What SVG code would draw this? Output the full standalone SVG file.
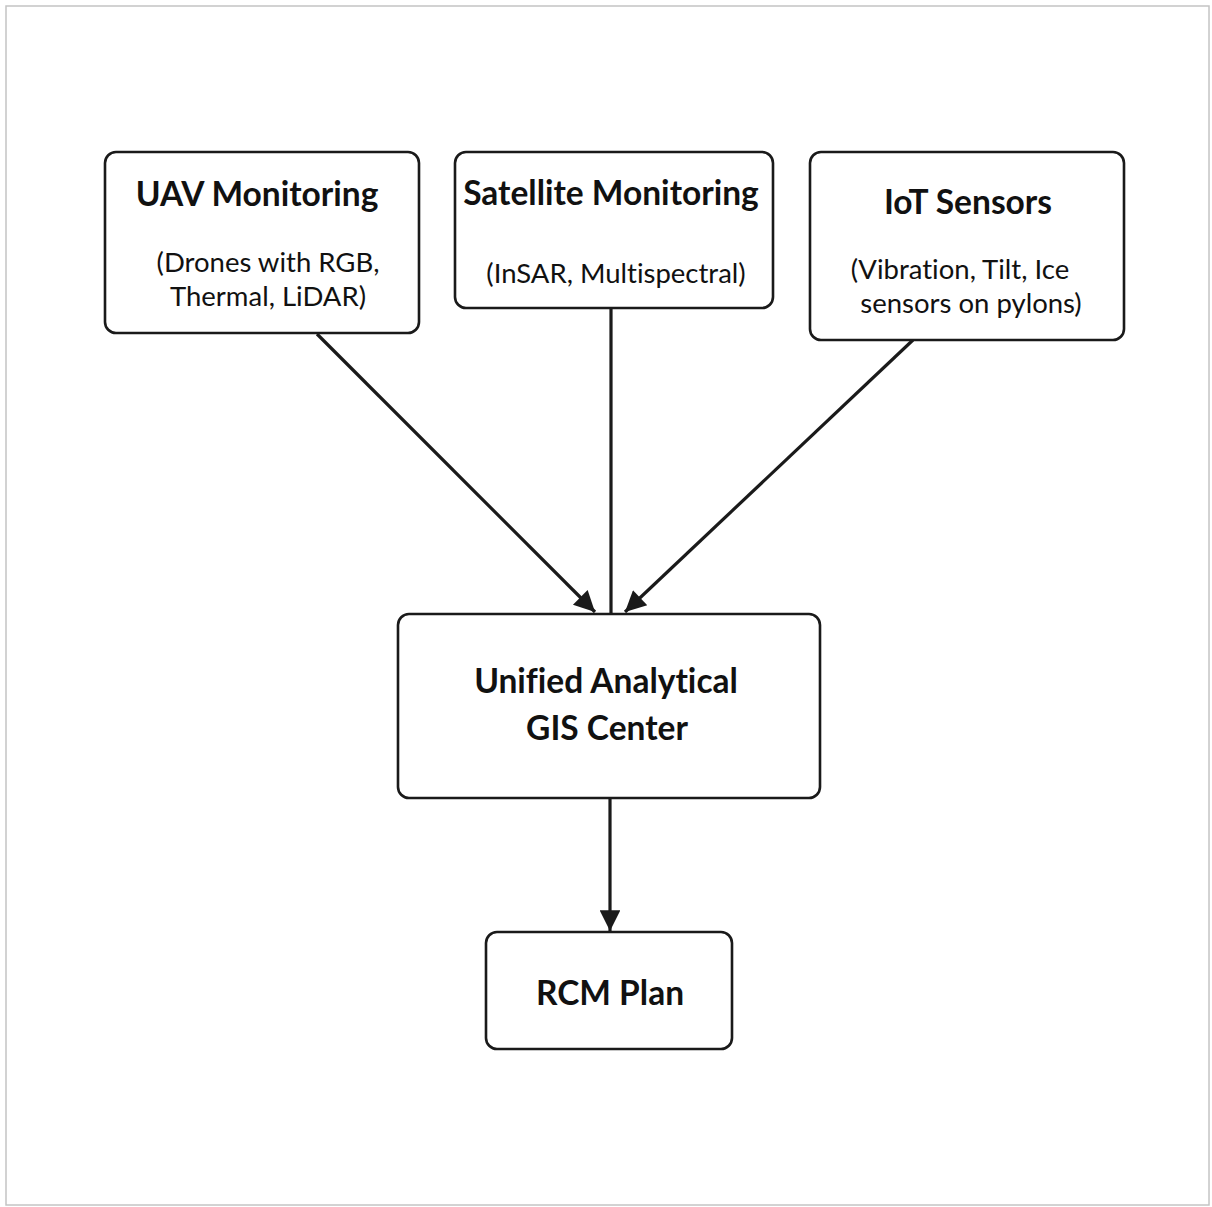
<svg xmlns="http://www.w3.org/2000/svg" width="1212" height="1207" viewBox="0 0 1212 1207">
<defs>
<style>
.node rect{fill:#fff;stroke:#1a1a1a;stroke-width:2.6}
.t{font-family:Lato,"Open Sans","Liberation Sans",sans-serif;font-weight:bold;font-size:33.5px;fill:#111;text-anchor:middle;font-variant-ligatures:none}
.s{font-family:Lato,"Open Sans","Liberation Sans",sans-serif;font-size:27.5px;fill:#111;text-anchor:middle;font-variant-ligatures:none}
.c line{stroke:#1a1a1a;stroke-width:3.2}
</style>
<marker id="ah" viewBox="0 0 10 10" refX="10" refY="5" markerWidth="8" markerHeight="6.5" markerUnits="strokeWidth" orient="auto">
<path d="M0,0 L10,5 L0,10 Z" fill="#1a1a1a"/>
</marker>
</defs>
<rect x="0" y="0" width="1212" height="1207" fill="#fff"/>
<rect x="6" y="6" width="1203" height="1199" fill="none" stroke="#c4c4c4" stroke-width="1.5"/>
<g class="c" id="connectors">
<line x1="317" y1="334" x2="595" y2="612" marker-end="url(#ah)"/>
<line x1="611" y1="308" x2="611" y2="614"/>
<line x1="913" y1="340" x2="625" y2="612" marker-end="url(#ah)"/>
<line x1="610" y1="798" x2="610" y2="931" marker-end="url(#ah)"/>
</g>
<g class="node" id="uav">
<rect x="105" y="152" width="314" height="181" rx="11"/>
<text class="t" x="257" y="206">UAV Monitoring</text>
<text class="s" x="268" y="272">(Drones with RGB,</text>
<text class="s" x="268" y="306">Thermal, LiDAR)</text>
</g>
<g class="node" id="satellite">
<rect x="455" y="152" width="318" height="156" rx="11"/>
<text class="t" x="611" y="205">Satellite Monitoring</text>
<text class="s" x="616" y="283">(InSAR, Multispectral)</text>
</g>
<g class="node" id="iot">
<rect x="810" y="152" width="314" height="188" rx="11"/>
<text class="t" x="968" y="214">IoT Sensors</text>
<text class="s" x="960" y="279">(Vibration, Tilt, Ice</text>
<text class="s" x="971" y="313">sensors on pylons)</text>
</g>
<g class="node" id="gis">
<rect x="398" y="614" width="422" height="184" rx="11"/>
<text class="t" x="606" y="693">Unified Analytical</text>
<text class="t" x="607" y="740">GIS Center</text>
</g>
<g class="node" id="rcm">
<rect x="486" y="932" width="246" height="117" rx="11"/>
<text class="t" x="610" y="1005">RCM Plan</text>
</g>
</svg>
